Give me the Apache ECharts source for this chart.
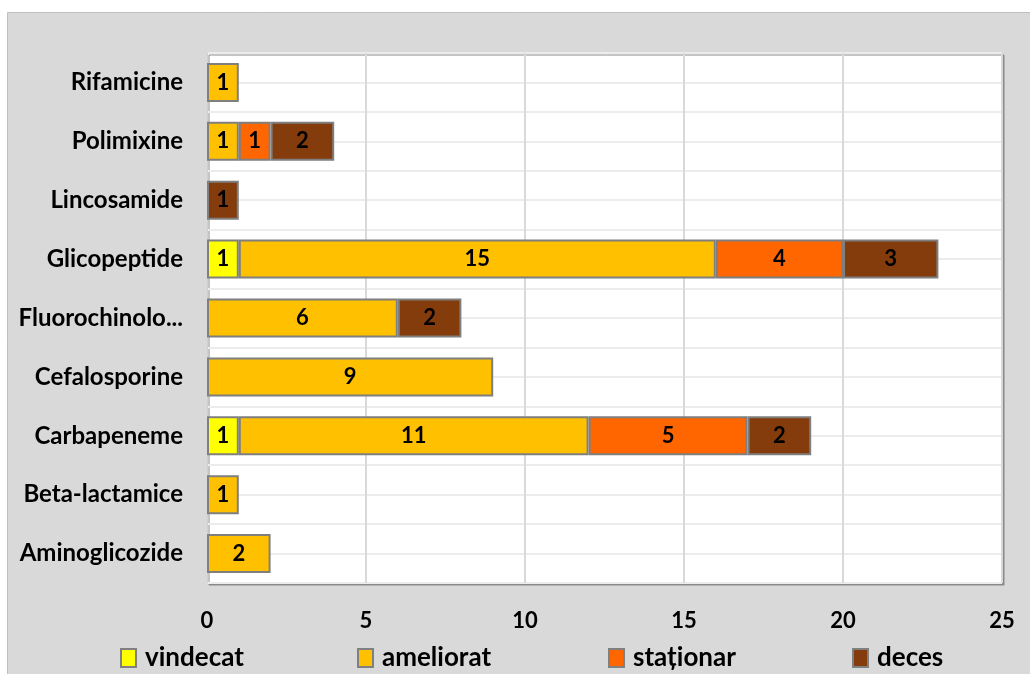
<!DOCTYPE html>
<html>
<head>
<meta charset="utf-8">
<script src="https://cdn.jsdelivr.net/npm/echarts@6/dist/echarts.min.js"></script>
<style>html,body{margin:0;padding:0;background:#fff}#c{width:1030px;height:674px}</style>
</head>
<body>
<div id="c"></div>
<script>
const categories = ['Aminoglicozide','Beta-lactamice','Carbapeneme','Cefalosporine','Fluorochinolo...','Glicopeptide','Lincosamide','Polimixine','Rifamicine'];
const vindecat  = [null, null, 1, null, null, 1, null, null, null];
const ameliorat = [2, 1, 11, 9, 6, 15, null, 1, 1];
const stationar = [null, null, 5, null, null, 4, null, 1, null];
const deces     = [null, null, 2, null, 2, 3, 1, 2, null];
const seriesNames = ['vindecat','ameliorat','staționar','deces'];
const colors = ['#ffff00','#ffc000','#ff6600','#843c0c'];
const xTicks = {min: 0, max: 25, interval: 5};

const FONT = 'Lato';
const chart = echarts.init(document.getElementById('c'));
const mk = (name, data, color) => ({
  name, type: 'bar', stack: 'total', data, barWidth: 39,
  itemStyle: {color, borderColor: '#7f7f7f', borderWidth: 2},
  label: {show: true, position: 'inside', color: '#000', fontFamily: FONT, fontWeight: 'bold', fontSize: 22}
});
const legendPos = [120, 357, 608, 852];
chart.setOption({
  animation: false,
  graphic: [{type: 'rect', left: 7, top: 12, z: -10,
    shape: {width: 1030, height: 670},
    style: {fill: '#d9d9d9', stroke: '#bfbfbf', lineWidth: 1}}],
  grid: {left: 207, right: 28, top: 53, bottom: 91, show: true, backgroundColor: '#fff',
    borderColor: '#d0d0d0', borderWidth: 1,
    shadowColor: '#8a8a8a', shadowOffsetX: 2, shadowOffsetY: 2, shadowBlur: 0},
  legend: seriesNames.map((n, i) => ({
    data: [n], left: legendPos[i], top: 643, padding: 0, icon: 'rect', itemWidth: 15, itemHeight: 18, itemGap: 4,
    itemStyle: {borderColor: '#808080', borderWidth: 2},
    textStyle: {fontFamily: FONT, fontWeight: 'bold', fontSize: 26, lineHeight: 30, color: '#000', padding: [0,0,0,4]}
  })),
  xAxis: {type: 'value', min: xTicks.min, max: xTicks.max, interval: xTicks.interval,
    axisLine: {show: false}, axisTick: {show: false},
    axisLabel: {color: '#000', fontFamily: FONT, fontWeight: 'bold', fontSize: 22, margin: 27},
    splitLine: {lineStyle: {color: '#d9d9d9', width: 2}}},
  yAxis: [
    {type: 'category', data: categories, axisTick: {show: false},
     axisLine: {show: true, lineStyle: {color: '#d0d0d0', width: 1}},
     axisLabel: {color: '#000', fontFamily: FONT, fontWeight: 'bold', fontSize: 24, margin: 24}},
    {type: 'value', min: 0, max: 18, interval: 1, position: 'right',
     axisLine: {show: false}, axisTick: {show: false}, axisLabel: {show: false},
     splitLine: {show: true, lineStyle: {color: '#ececec', width: 2}}}
  ],
  series: [mk(seriesNames[0], vindecat, colors[0]), mk(seriesNames[1], ameliorat, colors[1]),
           mk(seriesNames[2], stationar, colors[2]), mk(seriesNames[3], deces, colors[3])]
});
</script>
</body>
</html>
